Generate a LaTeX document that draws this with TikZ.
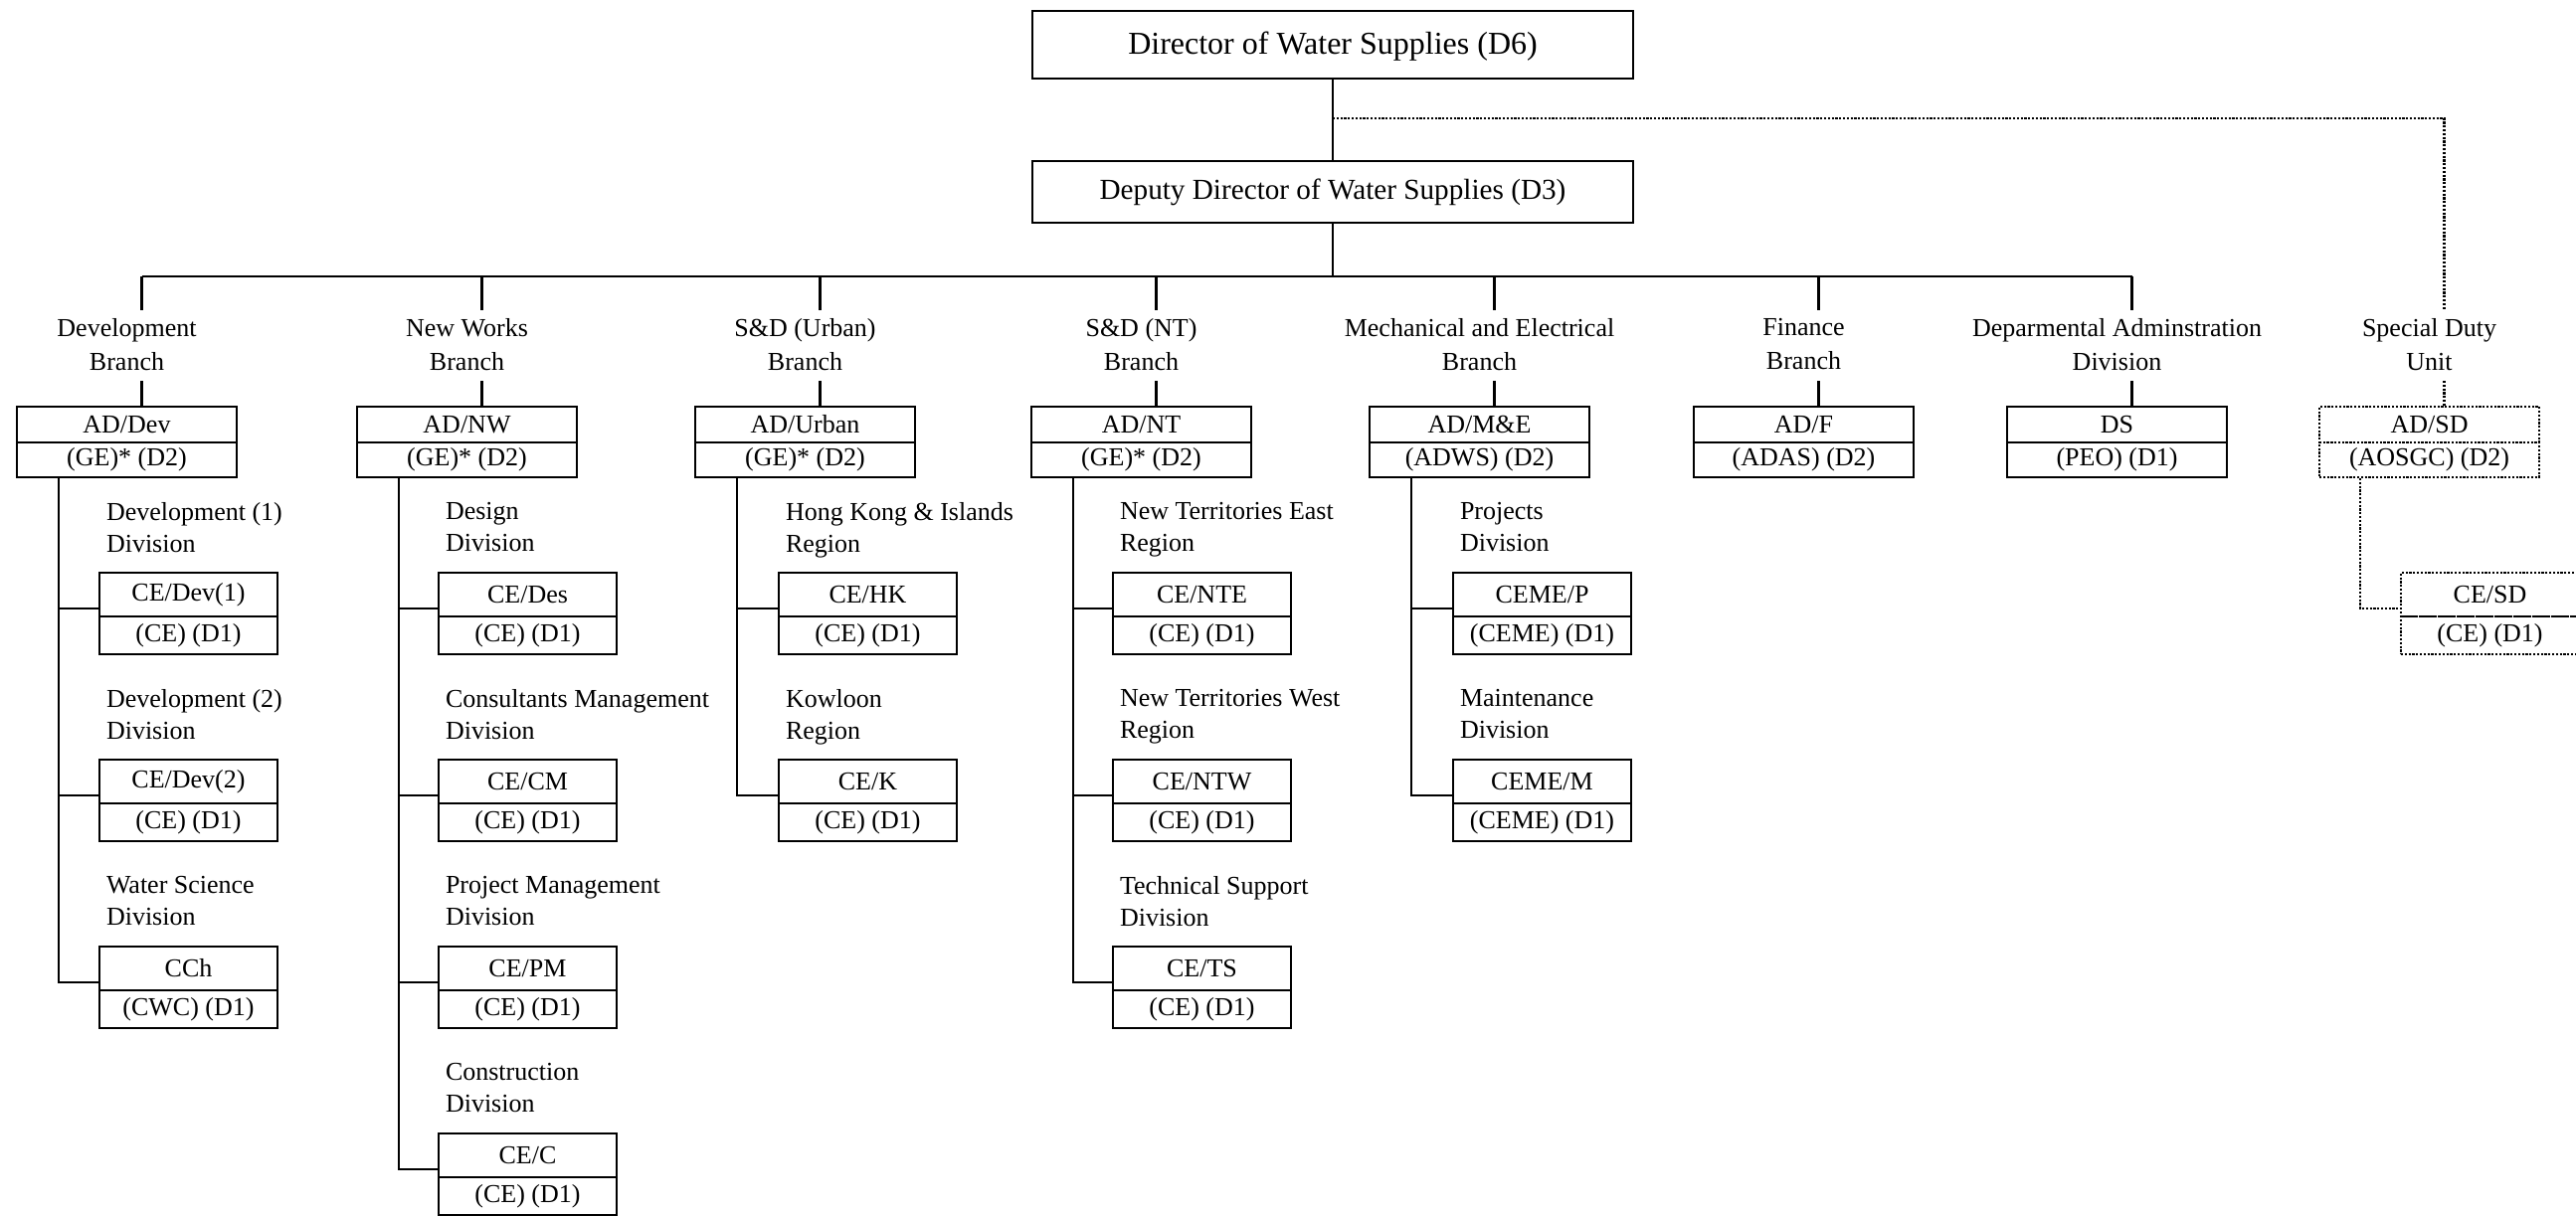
\documentclass[tikz,border=0pt]{standalone}
\usepackage{fontspec}
\setmainfont{Liberation Serif}
\tikzset{
  conn/.style={line width=1.45pt},
  dotln/.style={line width=1.15pt, dash pattern=on 1.1pt off 0.8pt},
  cellbase/.style={draw, line width=1.45pt, inner sep=0pt, outer sep=0pt, anchor=north west, font=\fontsize{13}{16}\selectfont},
  adtop/.style={cellbase, minimum width=110.5pt, minimum height=18pt},
  adbot/.style={cellbase, minimum width=110.5pt, minimum height=17.5pt},
  cetop/.style={cellbase, minimum width=89.5pt, minimum height=22pt},
  cebot/.style={cellbase, minimum width=89.5pt, minimum height=19pt},
  brlab/.style={inner sep=0pt, outer sep=0pt, anchor=north, align=center, font=\fontsize{13}{17}\selectfont},
  sublab/.style={inner sep=0pt, outer sep=0pt, anchor=north west, align=left, font=\fontsize{13}{16.25}\selectfont},
  topbox/.style={draw, line width=1.45pt, inner sep=0pt, outer sep=0pt, anchor=north west, minimum width=302pt},
}
% name, left x, label text, top text, bottom text, extra style
\newcommand\orgbranch[6]{%
  \node[brlab] (#1l) at ({#2+110.5},320) {#3};
  \coordinate (#1d) at ({#2+125.5},278);
  \coordinate (#1u) at ({#2+125.5},312);
  \coordinate (#1v) at ({#2+125.5},383);
  \coordinate (#1s) at ({#2+42},480);
  \node[adtop,#6] (#1t) at (#2,409) {#4};
  \node[adbot,#6] (#1b) at (#1t.south west) {#5};
}
% name, left x, top y, label, top text, bottom text
\newcommand\orgsub[6]{%
  \node[sublab] (#1l) at ({#2+7},{#3-71}) {#4};
  \node[cetop] (#1t) at (#2,#3) {#5};
  \node[cebot] (#1b) at (#1t.south west) {#6};
  \coordinate (#1k) at (#2,{#3+36});
}
\begin{document}
\begin{tikzpicture}[x=0.5pt,y=-0.5pt]
\useasboundingbox (0,0) rectangle (2590,1222);
\fill[white] (0,0) rectangle (2590,1222);
\clip (0,0) rectangle (2590,1222);

% top boxes
\node[topbox, minimum height=34pt, font=\fontsize{16}{19}\selectfont, text depth=2pt] (dir) at (1038,11) {Director of Water Supplies (D6)};
\node[topbox, minimum height=31pt, font=\fontsize{14.6}{17}\selectfont] (dd) at (1038,162) {Deputy Director of Water Supplies (D3)};

% branches
\orgbranch{dev}{17}{Development\\Branch}{AD/Dev}{(GE)* (D2)}{}
\orgbranch{nw}{359}{New Works\\Branch}{AD/NW}{(GE)* (D2)}{}
\orgbranch{urb}{699}{S\&D (Urban)\\Branch}{AD/Urban}{(GE)* (D2)}{}
\orgbranch{nt}{1037}{S\&D (NT)\\Branch}{AD/NT}{(GE)* (D2)}{}
\orgbranch{me}{1377}{Mechanical and Electrical\\Branch}{AD/M\&E}{(ADWS) (D2)}{}
\orgbranch{fin}{1703}{Finance\\Branch}{AD/F}{(ADAS) (D2)}{}
\orgbranch{ds}{2018}{Deparmental Adminstration\\Division}{DS}{(PEO) (D1)}{}
\orgbranch{sd}{2332}{Special Duty\\Unit}{AD/SD}{(AOSGC) (D2)}{dotln}

% sub divisions
\orgsub{dev1}{100}{576}{Development (1)\\Division}{CE/Dev(1)}{(CE) (D1)}
\orgsub{dev2}{100}{764}{Development (2)\\Division}{CE/Dev(2)}{(CE) (D1)}
\orgsub{dev3}{100}{952}{Water Science\\Division}{CCh}{(CWC) (D1)}

\orgsub{nw1}{441}{576}{Design\\Division}{CE/Des}{(CE) (D1)}
\orgsub{nw2}{441}{764}{Consultants Management\\Division}{CE/CM}{(CE) (D1)}
\orgsub{nw3}{441}{952}{Project Management\\Division}{CE/PM}{(CE) (D1)}
\orgsub{nw4}{441}{1140}{Construction\\Division}{CE/C}{(CE) (D1)}

\orgsub{urb1}{783}{576}{Hong Kong \& Islands\\Region}{CE/HK}{(CE) (D1)}
\orgsub{urb2}{783}{764}{Kowloon\\Region}{CE/K}{(CE) (D1)}

\orgsub{nt1}{1119}{576}{New Territories East\\Region}{CE/NTE}{(CE) (D1)}
\orgsub{nt2}{1119}{764}{New Territories West\\Region}{CE/NTW}{(CE) (D1)}
\orgsub{nt3}{1119}{952}{Technical Support\\Division}{CE/TS}{(CE) (D1)}

\orgsub{me1}{1461}{576}{Projects\\Division}{CEME/P}{(CEME) (D1)}
\orgsub{me2}{1461}{764}{Maintenance\\Division}{CEME/M}{(CEME) (D1)}

\node[cetop,dotln] (sd1t) at (2414,576) {CE/SD};
\node[cebot,dotln] (sd1b) at (sd1t.south west) {(CE) (D1)};
\coordinate (sd1k) at (2414,612);

% top connectors
\coordinate (bj) at (dd.south |- devd);
\coordinate (dj) at (1340,119);
\draw[conn] (dir.south) -- (dd.north);
\draw[conn] (dd.south) -- (bj);
\draw[conn] (devd) -- (dsd);
\draw[dotln] (dj) -| (sdu);
\draw[dotln] (sdv) -- (sdt.north -| sdv);

% branch drops
\foreach \b in {dev,nw,urb,nt,me,fin,ds}{
  \draw[conn] (\b d) -- (\b u);
  \draw[conn] (\b v) -- (\b t.north -| \b v);
}

% spines
\draw[conn] (devs) |- (dev3k);
\draw[conn] (dev1k -| devs) -- (dev1k);
\draw[conn] (dev2k -| devs) -- (dev2k);

\draw[conn] (nws) |- (nw4k);
\draw[conn] (nw1k -| nws) -- (nw1k);
\draw[conn] (nw2k -| nws) -- (nw2k);
\draw[conn] (nw3k -| nws) -- (nw3k);

\draw[conn] (urbs) |- (urb2k);
\draw[conn] (urb1k -| urbs) -- (urb1k);

\draw[conn] (nts) |- (nt3k);
\draw[conn] (nt1k -| nts) -- (nt1k);
\draw[conn] (nt2k -| nts) -- (nt2k);

\draw[conn] (mes) |- (me2k);
\draw[conn] (me1k -| mes) -- (me1k);

\coordinate (sdsp) at (2373,481);
\draw[dotln] (sdsp) |- (sd1k);
\end{tikzpicture}
\end{document}
